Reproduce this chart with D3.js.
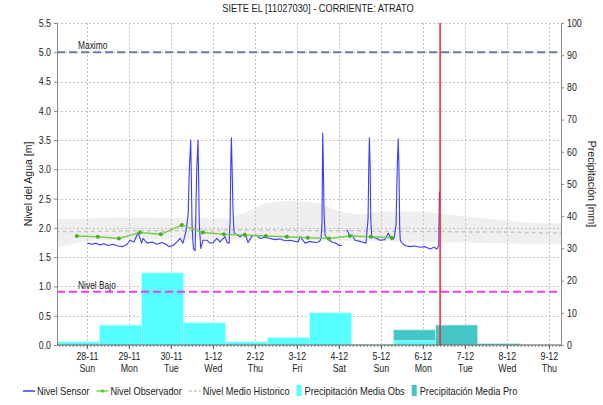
<!DOCTYPE html>
<html lang="es">
<head>
<meta charset="UTF-8">
<title>SIETE EL [11027030] - CORRIENTE: ATRATO</title>
<script src="https://cdn.jsdelivr.net/npm/d3@7/dist/d3.min.js"></script>
<style>
    body { margin: 0; background: #fff; }
    text { font-family: "Liberation Sans", Arial, sans-serif; fill: #222; }
</style>
</head>
<body>
<script>
    // ---- datos ----
    const title = 'SIETE EL [11027030] - CORRIENTE: ATRATO';

    // Nivel Sensor (hora, nivel en m); null = hueco sin datos
    const sensorTime = [
        '11-28 00:00','11-28 02:40','11-28 05:00','11-28 07:15','11-28 09:30','11-28 11:50','11-28 14:40','11-28 17:30','11-28 20:20','11-28 22:40',
        '11-29 00:20','11-29 02:40','11-29 05:00','11-29 07:00','11-29 07:50','11-29 10:10','11-29 13:00','11-29 15:50','11-29 18:40','11-29 21:00','11-29 22:40',
        '11-30 01:00','11-30 03:15','11-30 05:00','11-30 06:40','11-30 08:25','11-30 09:35','11-30 10:20','11-30 11:05','11-30 11:50','11-30 12:35',
        '11-30 13:35','11-30 14:30','11-30 15:15','11-30 16:00','11-30 16:50','11-30 18:05','11-30 20:20','11-30 22:05','11-30 23:50',
        '12-01 02:05','12-01 03:50','12-01 06:40','12-01 07:50','12-01 09:00','12-01 09:35','12-01 10:00','12-01 10:20','12-01 10:40','12-01 11:15',
        '12-01 11:50','12-01 13:30','12-01 15:15','12-01 18:05','12-01 19:50','12-01 22:05',
        '12-02 00:25','12-02 02:40','12-02 05:30','12-02 08:25','12-02 11:15','12-02 14:05','12-02 17:00','12-02 19:50','12-02 22:40',
        '12-03 00:25','12-03 01:35','12-03 04:25','12-03 07:15','12-03 10:05','12-03 11:50','12-03 13:00','12-03 13:30','12-03 14:05','12-03 14:30',
        '12-03 14:50','12-03 15:15','12-03 15:50','12-03 17:00','12-03 18:40','12-03 20:25','12-03 22:05','12-03 23:50',
        '12-04 01:30','12-04 03:00','12-04 04:20','12-04 05:30','12-04 06:05','12-04 07:15','12-04 09:00','12-04 11:50','12-04 13:00','12-04 15:15',
        '12-04 16:25','12-04 16:50','12-04 17:10','12-04 17:35','12-04 18:00','12-04 18:30','12-04 20:25','12-04 23:15',
        '12-05 02:05','12-05 04:00','12-05 06:00','12-05 07:15','12-05 08:25','12-05 09:10','12-05 09:40','12-05 10:05','12-05 10:30','12-05 10:50',
        '12-05 11:50','12-05 13:35','12-05 16:25','12-05 19:15','12-05 22:05',
        '12-06 01:00','12-06 03:50','12-06 06:05','12-06 07:50','12-06 08:50','12-06 09:10'
    ];
    const sensorLevel = [
        1.74,1.72,1.74,1.71,1.73,1.70,1.72,1.69,1.68,1.72,
        1.79,1.76,1.92,1.74,1.82,1.74,1.76,1.72,1.75,1.72,1.68,
        1.70,1.76,1.82,1.74,1.95,2.22,3.05,3.50,2.05,1.65,
        1.61,2.99,3.50,2.05,1.65,1.79,1.79,1.74,1.75,
        1.82,1.76,1.85,1.75,1.74,2.13,3.13,3.54,3.10,2.28,
        1.92,1.88,1.85,1.91,1.75,1.86,
        1.88,1.82,1.84,1.82,1.80,1.81,1.78,1.79,1.77,
        1.76,1.85,1.74,1.77,1.75,1.76,1.78,1.82,2.05,3.62,
        3.13,2.28,1.88,1.82,1.78,1.75,1.74,1.70,
        1.70,null,1.97,1.90,1.85,1.88,1.79,1.77,1.76,1.74,
        2.16,3.07,3.54,3.07,2.13,1.85,1.83,1.79,
        1.80,1.91,1.80,1.82,2.05,3.13,3.52,2.99,2.00,1.79,
        1.74,1.70,1.68,1.69,1.67,
        1.68,1.64,1.67,1.64,1.70,2.62
    ];

    // Nivel Observador (lecturas 06:00 y 18:00)
    const obsTime = ['11-27 18:00','11-28 06:00','11-28 18:00','11-29 06:00','11-29 18:00','11-30 06:00','11-30 18:00','12-01 06:00',
                     '12-01 18:00','12-02 06:00','12-02 18:00','12-03 06:00','12-03 18:00','12-04 06:00','12-04 18:00','12-05 06:00'];
    const obsLevel = [1.86,1.85,1.82,1.92,1.89,2.05,1.92,1.89,1.88,1.86,1.85,1.83,1.82,1.86,1.85,1.83];

    // Nivel Medio Historico: banda (min / max) y media
    const histTime = ['11-27 06:00','11-28 00:00','11-29 00:00','11-30 00:00','12-01 09:00','12-01 21:00','12-02 06:00','12-02 20:00','12-03 13:00',
                      '12-04 00:00','12-04 12:00','12-05 00:00','12-05 22:00','12-06 10:00','12-07 03:00','12-07 20:00','12-08 13:00','12-09 07:00'];
    const histHigh = [2.15,2.16,2.18,2.17,2.16,2.30,2.42,2.47,2.42,2.28,2.23,2.28,2.28,2.24,2.19,2.13,2.09,2.08];
    const histLow  = [1.66,1.78,1.80,1.80,1.80,1.80,1.80,1.80,1.79,1.78,1.78,1.77,1.76,1.75,1.75,1.74,1.73,1.72];
    const histMean = [1.94,1.94,1.95,1.95,1.96,1.96,1.96,1.96,1.95,1.95,1.95,1.94,1.94,1.94,1.93,1.93,1.92,1.91];

    // Precipitacion diaria (dia pluviometrico 07:00 - 07:00), mm
    const precipDay = ['11-26','11-27','11-28','11-29','11-30','12-01','12-02','12-03','12-04','12-05','12-06','12-07'];
    const precipObs = [11.9, 1.0, 6.2, 22.4, 6.9, 1.0, 2.3, 10.0, 0.2, 1.3, null, null];
    const precipPro = [null, null, null, null, null, null, null, null, null, 4.7, 6.2, 0.4];

    const thresholds = [
        {label: 'Maximo', value: 5.0, color: '#6c7ba6'},
        {label: 'Nivel Bajo', value: 0.91, color: '#ee3cee'}
    ];
    const nowTime = '12-06 09:35';
    const domainTime = ['11-27 06:40', '12-09 06:40'];

    // ---- dibujo ----
    const w = 603, h = 405;
    const pl = 57, pr = 561, pt = 23, pb = 345;
    const SQ = 0.84; // el texto del original es estrecho

    const parse = s => d3.utcParse('%Y-%m-%d %H:%M')('2021-' + s);

    const svg = d3.select('body').append('svg')
        .attr('width', w)
        .attr('height', h);

    function squeeze(sel) {
        sel.each(function () {
            const len = this.getComputedTextLength();
            d3.select(this).attr('textLength', len * SQ).attr('lengthAdjust', 'spacingAndGlyphs');
        });
    }

    let xScale = d3.scaleUtc()
        .domain(domainTime.map(parse))
        .range([pl, pr]);
    let yScale = d3.scaleLinear().domain([0, 5.5]).range([pb, pt]);
    let pScale = d3.scaleLinear().domain([0, 100]).range([pb, pt]);

    svg.append('clipPath').attr('id', 'plot')
        .append('rect')
        .attr('x', pl).attr('y', pt)
        .attr('width', pr - pl).attr('height', pb - pt);

    const plot = svg.append('g').attr('clip-path', 'url(#plot)');

    // banda historica
    const hist = histTime.map((t, i) => ({t: parse(t), hi: histHigh[i], lo: histLow[i], m: histMean[i]}));
    plot.append('path')
        .datum(hist)
        .attr('fill', '#efefef')
        .attr('d', d3.area().x(d => xScale(d.t)).y0(d => yScale(d.lo)).y1(d => yScale(d.hi)));

    // rejilla
    const days = d3.utcDay.range(parse('11-28 00:00'), parse('12-09 12:00'));
    plot.selectAll('.vgrid')
        .data(days)
        .enter()
        .append('line')
        .attr('x1', d => Math.round(xScale(d)) + 0.5)
        .attr('x2', d => Math.round(xScale(d)) + 0.5)
        .attr('y1', pt).attr('y2', pb)
        .attr('stroke', '#c4c4c4')
        .attr('stroke-dasharray', '2,2');
    const levels = d3.range(0.5, 5.51, 0.5);
    plot.selectAll('.hgrid')
        .data(levels)
        .enter()
        .append('line')
        .attr('x1', pl).attr('x2', pr)
        .attr('y1', d => Math.round(yScale(d)) + 0.5)
        .attr('y2', d => Math.round(yScale(d)) + 0.5)
        .attr('stroke', '#c4c4c4')
        .attr('stroke-dasharray', '2,2');

    // precipitacion: pronostico debajo, observada encima
    const bars = precipDay.map((d, i) => {
        const t0 = parse(d + ' 07:00');
        return {t0: t0, t1: d3.utcDay.offset(t0, 1), obs: precipObs[i], pro: precipPro[i]};
    });
    plot.selectAll('.pro')
        .data(bars.filter(d => d.pro !== null))
        .enter()
        .append('rect')
        .attr('x', d => xScale(d.t0))
        .attr('y', d => pScale(d.pro))
        .attr('width', d => xScale(d.t1) - xScale(d.t0))
        .attr('height', d => pb - pScale(d.pro))
        .attr('fill', '#45c6c6')
        .attr('stroke', '#b8eded')
        .attr('stroke-width', 0.8);
    plot.selectAll('.obs')
        .data(bars.filter(d => d.obs !== null))
        .enter()
        .append('rect')
        .attr('x', d => xScale(d.t0))
        .attr('y', d => pScale(d.obs))
        .attr('width', d => xScale(d.t1) - xScale(d.t0))
        .attr('height', d => pb - pScale(d.obs))
        .attr('fill', '#55ffff')
        .attr('stroke', '#c8ffff')
        .attr('stroke-width', 0.8);

    // media historica
    plot.append('path')
        .datum(hist)
        .attr('fill', 'none')
        .attr('stroke', '#c8c8c8')
        .attr('stroke-width', 1.5)
        .attr('stroke-dasharray', '4,3')
        .attr('d', d3.line().x(d => xScale(d.t)).y(d => yScale(d.m)));

    // umbrales
    plot.selectAll('.thr')
        .data(thresholds)
        .enter()
        .append('line')
        .attr('x1', pl).attr('x2', pr)
        .attr('y1', d => yScale(d.value))
        .attr('y2', d => yScale(d.value))
        .attr('stroke', d => d.color)
        .attr('stroke-width', 2)
        .attr('stroke-dasharray', '8,4');
    svg.selectAll('.thrlabel')
        .data(thresholds)
        .enter()
        .append('text')
        .text(d => d.label)
        .attr('x', pl + 21)
        .attr('y', d => yScale(d.value) - 3)
        .attr('font-size', '10px')
        .call(squeeze);

    // nivel sensor
    const sensor = sensorTime.map((t, i) => ({t: parse(t), v: sensorLevel[i]}));
    plot.append('path')
        .datum(sensor)
        .attr('fill', 'none')
        .attr('stroke', '#3c3cff')
        .attr('stroke-width', 1.1)
        .attr('stroke-linejoin', 'round')
        .attr('d', d3.line().defined(d => d.v !== null).x(d => xScale(d.t)).y(d => yScale(d.v)));

    // nivel observador
    const obs = obsTime.map((t, i) => ({t: parse(t), v: obsLevel[i]}));
    plot.append('path')
        .datum(obs)
        .attr('fill', 'none')
        .attr('stroke', '#7ccc4c')
        .attr('stroke-width', 1.5)
        .attr('d', d3.line().x(d => xScale(d.t)).y(d => yScale(d.v)));
    plot.selectAll('.opt')
        .data(obs)
        .enter()
        .append('circle')
        .attr('cx', d => xScale(d.t))
        .attr('cy', d => yScale(d.v))
        .attr('r', 2)
        .attr('fill', '#44b022');

    // hora actual
    svg.append('line')
        .attr('x1', xScale(parse(nowTime))).attr('x2', xScale(parse(nowTime)))
        .attr('y1', pt).attr('y2', pb)
        .attr('stroke', '#ff2020')
        .attr('stroke-width', 1.5);

    // ejes
    const axisL = svg.append('g')
        .attr('transform', 'translate(' + pl + ',0)')
        .call(d3.axisLeft(yScale).tickValues(d3.range(0, 5.51, 0.5)).tickFormat(d3.format('.1f')).tickSize(3).tickSizeOuter(0));
    const axisR = svg.append('g')
        .attr('transform', 'translate(' + pr + ',0)')
        .call(d3.axisRight(pScale).tickValues(d3.range(0, 101, 10)).tickSize(3).tickSizeOuter(0));
    [axisL, axisR].forEach(a => {
        a.select('.domain').attr('stroke', '#888');
        a.selectAll('.tick line').attr('stroke', '#888');
        a.selectAll('.tick text')
            .attr('font-family', '"Liberation Sans", Arial, sans-serif')
            .attr('font-size', '10.5px')
            .attr('fill', '#222')
            .call(squeeze);
    });

    const axisB = svg.append('g')
        .attr('transform', 'translate(0,' + pb + ')');
    axisB.append('line')
        .attr('x1', pl).attr('x2', pr)
        .attr('stroke', '#555');
    axisB.selectAll('.minor')
        .data(d3.utcHour.every(2).range(xScale.domain()[0], xScale.domain()[1]))
        .enter()
        .append('line')
        .attr('x1', d => xScale(d)).attr('x2', d => xScale(d))
        .attr('y1', 0).attr('y2', 2)
        .attr('stroke', '#666')
        .attr('stroke-width', 0.8);
    const dayTicks = axisB.selectAll('.day')
        .data(days)
        .enter()
        .append('g')
        .attr('transform', d => 'translate(' + xScale(d) + ',0)');
    dayTicks.append('line').attr('y2', 4).attr('stroke', '#555');
    dayTicks.append('text')
        .text(d => d3.utcFormat('%-d-%m')(d))
        .attr('y', 15)
        .attr('text-anchor', 'middle')
        .attr('font-size', '10.5px')
        .call(squeeze);
    dayTicks.append('text')
        .text(d => d3.utcFormat('%a')(d))
        .attr('y', 27)
        .attr('text-anchor', 'middle')
        .attr('font-size', '10.5px')
        .call(squeeze);

    // titulos
    svg.append('text')
        .text(title)
        .attr('x', (pl + pr) / 2 + 9)
        .attr('y', 12)
        .attr('text-anchor', 'middle')
        .attr('font-size', '11px')
        .call(squeeze);
    svg.append('text')
        .text('Nivel del Agua [m]')
        .attr('transform', 'translate(32,' + ((pt + pb) / 2) + ') rotate(-90)')
        .attr('text-anchor', 'middle')
        .attr('font-size', '10.5px');
    svg.append('text')
        .text('Precipitación [mm]')
        .attr('transform', 'translate(588,' + ((pt + pb) / 2) + ') rotate(90)')
        .attr('text-anchor', 'middle')
        .attr('font-size', '10.5px');

    // leyenda
    const legend = [
        {label: 'Nivel Sensor', type: 'line', color: '#2020ee'},
        {label: 'Nivel Observador', type: 'dot', color: '#66cc33'},
        {label: 'Nivel Medio Historico', type: 'dash', color: '#c8c8c8'},
        {label: 'Precipitación Media Obs', type: 'box', color: '#55ffff'},
        {label: 'Precipitación Media Pro', type: 'box', color: '#45c6c6'}
    ];
    let lx = 23;
    const ly = 391;
    legend.forEach(item => {
        const g = svg.append('g').attr('transform', 'translate(' + lx + ',' + ly + ')');
        let sw;
        if (item.type === 'box') {
            g.append('rect').attr('x', 0).attr('y', -6).attr('width', 5).attr('height', 11).attr('fill', item.color);
            sw = 8;
        } else {
            g.append('line').attr('x1', 0).attr('x2', 12)
                .attr('stroke', item.color).attr('stroke-width', item.type === 'dash' ? 1.5 : 1.3)
                .attr('stroke-dasharray', item.type === 'dash' ? '3,2' : null);
            if (item.type === 'dot') g.append('circle').attr('cx', 6).attr('r', 1.8).attr('fill', item.color);
            sw = 14;
        }
        const t = g.append('text')
            .text(item.label)
            .attr('x', sw)
            .attr('y', 4)
            .attr('font-size', '11px')
            .call(squeeze);
        lx += sw + (+t.attr('textLength')) + 7;
    });
</script>
</body>
</html>
